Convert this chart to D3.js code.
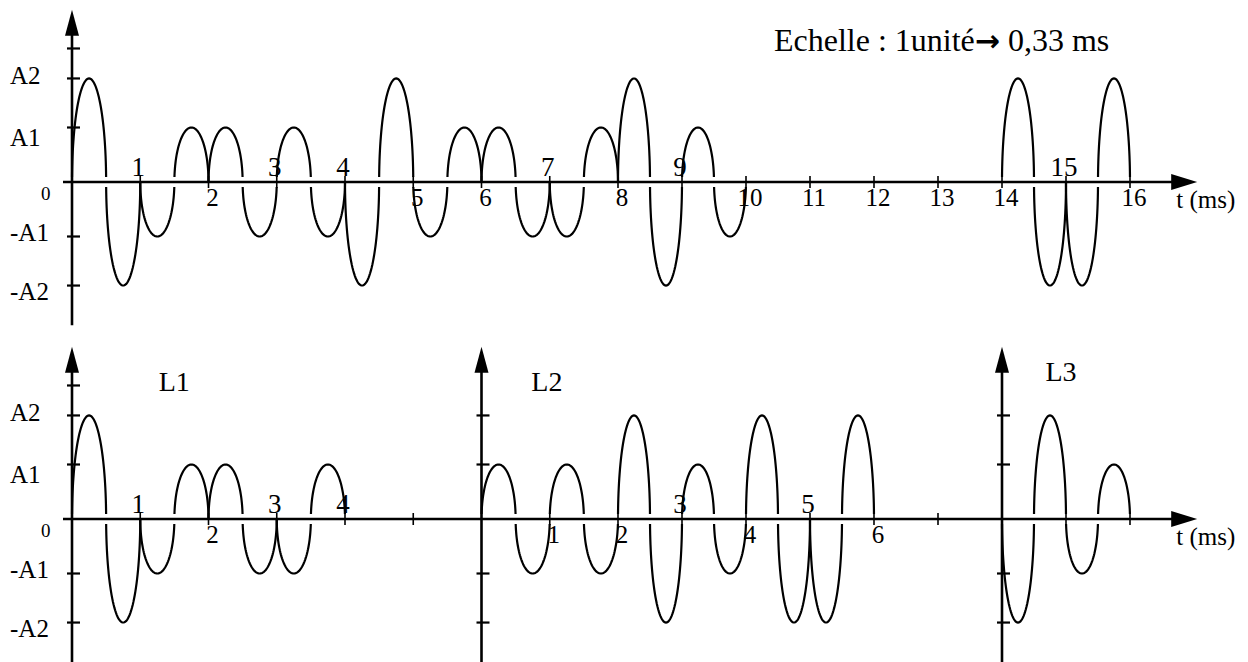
<!DOCTYPE html>
<html><head><meta charset="utf-8">
<script src="https://cdn.jsdelivr.net/npm/d3@7"></script>
<style>
body{margin:0;background:#fff}
svg{display:block}
text{font-family:"Liberation Serif","Times New Roman",serif;fill:#000}
</style>
</head><body>
<svg id="chart" width="1248" height="662"></svg>
<script>
// ---------------- DATA ----------------
// amplitude levels, in units of A1 (index 1 = A1, index 2 = A2)
const levelValues = [0, 1, 1.9];
const halfPeriod = 0.5;              // each lobe lasts half a unit
// top signal: successive half-lobes, sign * level index
const topBurst1Start = 0;
const topBurst1 = [2,-2,-1,1,1,-1,1,-1,-2,2,-1,1,1,-1,-1,1,2,-2,1,-1];
const topBurst2Start = 14;
const topBurst2 = [2,-2,-2,2];
// bottom signals L1, L2, L3
const l1Start = 0;  const l1Seq = [2,-2,-1,1,1,-1,-1,1];
const l2Start = 6;  const l2Seq = [1,-1,1,-1,2,-2,1,-1,2,-2,-2,2];
const l3Start = 14; const l3Seq = [-2,2,-1,1];
// ticks and labels
const topTickValues = [1,2,3,4,5,6,7,8,9,10,11,12,13,14,15,16];
const topLabelsAbove = [1,3,4,7,9,15];
const bottomTickValues = [1,2,3,4,5,7,8,9,10,11,12,13,15,16];
const l1LabelValues = [1,2,3,4];
const l1LabelsAbove = [1,3,4];
const l2LabelValues = [1,2,3,4,5,6];
const l2LabelsAbove = [3,5];
const yLabelTexts = ["A2","A1","0","-A1","-A2"];
const yLabelLevels = [1.9, 1, 0, -1, -1.9];
const yTickLevelsMain = [2.45, 1.9, 1, -1, -1.9];
const yTickLevelsSub = [1.9, 1, -1, -1.9];
const panelNames = ["L1","L2","L3"];
const panelOrigins = [0, 6, 14];
const scaleText = "Echelle : 1unité";
const scaleArrow = "\u2192";
const scaleValue = " 0,33 ms";
const axisUnit = "t (ms)";

// ---------------- LAYOUT ----------------
const svg = d3.select("#chart");
const x = d3.scaleLinear().domain([0, 8, 16]).range([72, 618, 1130]);
const unitPx = 54.5;
function yScaleFor(axisY){
  return d3.scaleLinear().domain([-1, 1]).range([axisY + unitPx, axisY - unitPx]);
}
const topAxisY = 182, botAxisY = 519;
const yTop = yScaleFor(topAxisY), yBot = yScaleFor(botAxisY);
const yLabelDy = [6, 18, 18, 4, 14];

const line = d3.line().x(d => d[0]).y(d => d[1]);

function drawLobes(g, y, start, seq){
  const trim = 5;
  seq.forEach((code, i) => {
    const sign = Math.sign(code);
    const v = sign * levelValues[Math.abs(code)];
    const t0 = start + i * halfPeriod, t1 = t0 + halfPeriod;
    const x0 = x(t0), x1 = x(t1);
    const cx = (x0 + x1) / 2, rx = (x1 - x0) / 2;
    const y0 = y(0), ry = Math.abs(y(v) - y0);
    const prev = i > 0 ? Math.sign(seq[i-1]) : 0;
    const next = i < seq.length - 1 ? Math.sign(seq[i+1]) : 0;
    const a0 = prev === sign ? 0 : Math.asin(trim / ry);
    const a1 = next === sign ? Math.PI : Math.PI - Math.asin(trim / ry);
    const pts = d3.range(0, 61).map(k => {
      const th = a0 + (a1 - a0) * k / 60;
      return [cx - rx * Math.cos(th), y0 - sign * ry * Math.sin(th)];
    });
    g.append("path").attr("d", line(pts))
      .attr("fill", "none").attr("stroke", "#000").attr("stroke-width", 2.2);
  });
}

function drawXAxis(axisY, ticks){
  const g = svg.append("g");
  const xs = x(0) - 9, xe = x(17.05);
  g.append("line").attr("x1", xs).attr("x2", xe - 20).attr("y1", axisY).attr("y2", axisY)
    .attr("stroke", "#000").attr("stroke-width", 2.6);
  g.append("path").attr("d", `M${xe},${axisY} L${xe-26},${axisY-8} L${xe-26},${axisY+8} Z`).attr("fill", "#000");
  g.selectAll("line.tk").data(ticks).join("line").attr("class","tk")
    .attr("x1", d => x(d)).attr("x2", d => x(d))
    .attr("y1", axisY - 6).attr("y2", axisY + 6)
    .attr("stroke", "#000").attr("stroke-width", 1.6);
  g.append("text").attr("x", xe - 21).attr("y", axisY + 26).attr("font-size", 25).text(axisUnit);
}

function drawYAxis(t, y, tickLevels){
  const g = svg.append("g");
  const xa = x(t);
  const yt = y(3.16), yb = y(-2.63);
  g.append("line").attr("x1", xa).attr("x2", xa).attr("y1", yt + 20).attr("y2", yb)
    .attr("stroke", "#000").attr("stroke-width", 2.6);
  g.append("path").attr("d", `M${xa},${yt} L${xa-7},${yt+26} L${xa+7},${yt+26} Z`).attr("fill", "#000");
  g.selectAll("line.tk").data(tickLevels).join("line").attr("class","tk")
    .attr("x1", xa - 5).attr("x2", xa + 8)
    .attr("y1", d => y(d)).attr("y2", d => y(d))
    .attr("stroke", "#000").attr("stroke-width", 2.2);
}

function drawYLabels(y){
  yLabelTexts.forEach((s, i) => {
    svg.append("text").attr("x", i === 2 ? 41 : 10)
      .attr("y", y(yLabelLevels[i]) + yLabelDy[i])
      .attr("font-size", i === 2 ? 19 : 25).text(s);
  });
}

function drawTickLabels(axisY, origin, values, above){
  values.forEach(v => {
    const isAbove = above.includes(v);
    svg.append("text")
      .attr("x", x(origin + v) + (isAbove ? -2 : 4))
      .attr("y", isAbove ? axisY - 6 : axisY + 24)
      .attr("text-anchor", "middle")
      .attr("font-size", isAbove ? 27 : 25)
      .text(v);
  });
}

// ---------------- TOP PANEL ----------------
drawXAxis(topAxisY, topTickValues);
drawYAxis(0, yTop, yTickLevelsMain);
drawYLabels(yTop);
const gTop = svg.append("g");
drawLobes(gTop, yTop, topBurst1Start, topBurst1);
drawLobes(gTop, yTop, topBurst2Start, topBurst2);
drawTickLabels(topAxisY, 0, topTickValues, topLabelsAbove);

const st = svg.append("text").attr("x", 774).attr("y", 51).attr("font-size", 32);
st.append("tspan").text(scaleText);
st.append("tspan").attr("font-family", "DejaVu Sans").attr("font-weight", "bold").attr("font-size", 30).text(scaleArrow);
st.append("tspan").text(scaleValue);

// ---------------- BOTTOM PANEL ----------------
drawXAxis(botAxisY, bottomTickValues);
drawYAxis(panelOrigins[0], yBot, yTickLevelsMain);
drawYAxis(panelOrigins[1], yBot, yTickLevelsSub);
drawYAxis(panelOrigins[2], yBot, yTickLevelsSub);
drawYLabels(yBot);
const gBot = svg.append("g");
drawLobes(gBot, yBot, l1Start, l1Seq);
drawLobes(gBot, yBot, l2Start, l2Seq);
drawLobes(gBot, yBot, l3Start, l3Seq);
drawTickLabels(botAxisY, panelOrigins[0], l1LabelValues, l1LabelsAbove);
drawTickLabels(botAxisY, panelOrigins[1], l2LabelValues, l2LabelsAbove);

const panelNameDx = [1.27, 0.73, 0.68];
const panelNameY = [391, 391, 381];
panelNames.forEach((n, i) => {
  svg.append("text").attr("x", x(panelOrigins[i] + panelNameDx[i])).attr("y", panelNameY[i])
    .attr("font-size", 28).text(n);
});
</script>
</body></html>
